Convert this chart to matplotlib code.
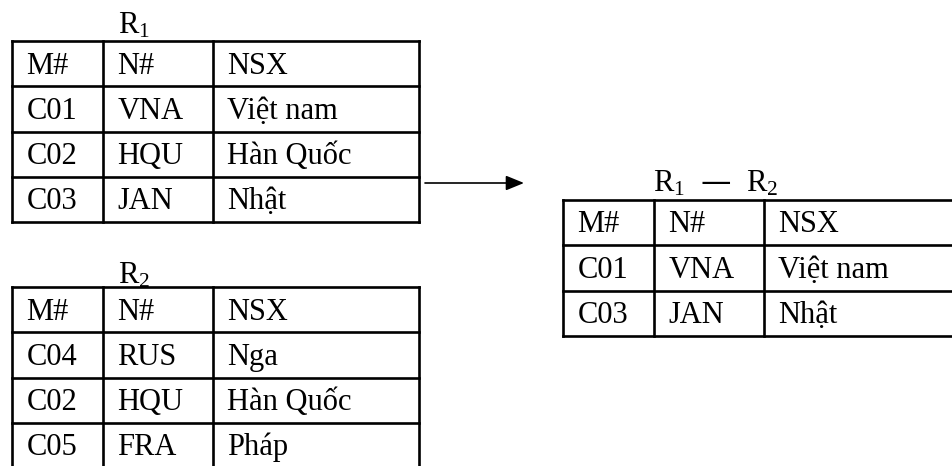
import matplotlib.pyplot as plt

plt.rcParams['font.family'] = ['Liberation Serif', 'DejaVu Serif']
plt.rcParams['mathtext.default'] = 'regular'

header = ['M#', 'N#', 'NSX']
r1_rows = [['C01', 'VNA', 'Việt nam'],
           ['C02', 'HQU', 'Hàn Quốc'],
           ['C03', 'JAN', 'Nhật']]
r2_rows = [['C04', 'RUS', 'Nga'],
           ['C02', 'HQU', 'Hàn Quốc'],
           ['C05', 'FRA', 'Pháp']]
diff_rows = [['C01', 'VNA', 'Việt nam'],
             ['C03', 'JAN', 'Nhật']]

titles = ['R$_1$', 'R$_2$', 'R$_1$  —  R$_2$']

# layout in pixels (y grows downward)
col_w = [91, 110, 206]
row_h = 45.3
FS = 22
LW = 1.9


def draw_table(ax, x0, y0, rows, title, title_x, title_y):
    rows = [header] + rows
    n = len(rows)
    xs = [x0]
    for w in col_w:
        xs.append(xs[-1] + w)
    ys = [y0 + i * row_h for i in range(n + 1)]
    for y in ys:
        ax.plot([xs[0], xs[-1]], [y, y], color='black', lw=LW, solid_capstyle='projecting')
    for x in xs:
        ax.plot([x, x], [ys[0], ys[-1]], color='black', lw=LW, solid_capstyle='projecting')
    for i, row in enumerate(rows):
        for j, val in enumerate(row):
            ax.text(xs[j] + 14.5, ys[i] + 32.5, val, fontsize=FS, va='baseline', ha='left')
    ax.text(title_x, title_y, title, fontsize=FS, va='baseline', ha='left')


fig = plt.figure(figsize=(9.53, 4.66), dpi=100)
ax = fig.add_axes([0, 0, 1, 1])
ax.set_xlim(0, 953)
ax.set_ylim(466, 0)
ax.axis('off')

draw_table(ax, 12, 41, r1_rows, titles[0], 118, 33)
draw_table(ax, 12, 287, r2_rows, titles[1], 118, 283)
draw_table(ax, 563, 200, diff_rows, titles[2], 653, 192)

ax.annotate('', xy=(524, 183), xytext=(425, 183),
            arrowprops=dict(arrowstyle='-|>,head_length=1.1,head_width=0.45',
                            color='black', lw=1.2, shrinkA=0, shrinkB=0))

fig.savefig('out.png', dpi=100)
